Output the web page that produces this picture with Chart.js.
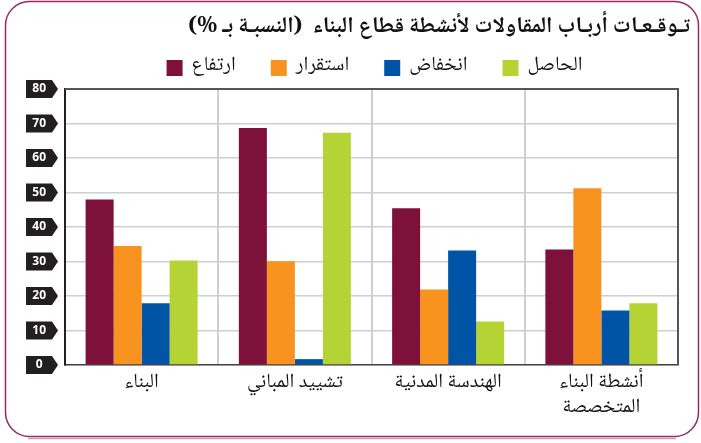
<!DOCTYPE html>
<html>
<head>
<meta charset="utf-8">
<script src="https://cdn.jsdelivr.net/npm/chart.js@4/dist/chart.umd.min.js"></script>
<style>
  html, body { margin: 0; padding: 0; background: #fff; }
  #wrap { width: 701px; height: 443px; position: relative; }
</style>
</head>
<body>
<div id="wrap"><canvas id="expectChart"></canvas></div>
<script>
var TITLE = 'تـوقـعـات أربـاب المقاولات لأنشطة قطاع البناء  (النسبـة بـ %)';
var categories = ['البناء', 'تشييد المباني', 'الهندسة المدنية', ['أنشطة البناء', 'المتخصصة']];
var seriesNames = ['ارتفاع', 'استقرار', 'انخفاض', 'الحاصل'];
var rise = [48, 68.7, 45.4, 33.5];
var stable = [34.5, 30.1, 21.9, 51.2];
var fall = [17.9, 1.7, 33.2, 15.8];
var net = [30.3, 67.3, 12.6, 17.9];
var yTicks = [0, 10, 20, 30, 40, 50, 60, 70, 80];

var colors = ['#7e1139', '#f7931e', '#0054a6', '#b5d334'];
var arabicFont = "'Noto Naskh Arabic', 'DejaVu Sans', sans-serif";

// rounded frame + black arrow tags behind the y labels
var backPlugin = {
    id: 'backPlugin',
    beforeDraw: function (chart) {
        var ctx = chart.ctx;
        ctx.save();
        ctx.strokeStyle = '#a02860';
        ctx.lineWidth = 1.5;
        ctx.beginPath();
        ctx.roundRect(5.5, 1.5, 693, 435, 24);
        ctx.stroke();
        ctx.strokeStyle = 'rgba(160,40,96,0.45)';
        ctx.lineWidth = 1.5;
        ctx.beginPath();
        ctx.moveTo(28, 438.5);
        ctx.lineTo(676, 438.5);
        ctx.stroke();

        var y = chart.scales.y;
        ctx.fillStyle = '#231f20';
        yTicks.forEach(function (v) {
            var py = y.getPixelForValue(v);
            ctx.beginPath();
            ctx.moveTo(26, py - 9);
            ctx.lineTo(52, py - 9);
            ctx.lineTo(58, py);
            ctx.lineTo(52, py + 9);
            ctx.lineTo(26, py + 9);
            ctx.closePath();
            ctx.fill();
        });
        ctx.restore();
    },
    afterDatasetsDraw: function (chart) {
        var a = chart.chartArea, ctx = chart.ctx;
        ctx.save();
        ctx.strokeStyle = '#555';
        ctx.lineWidth = 2;
        ctx.beginPath();
        ctx.moveTo(a.left, a.top);
        ctx.lineTo(a.right, a.top);
        ctx.lineTo(a.right, a.bottom);
        ctx.stroke();
        ctx.restore();
    },
    afterDraw: function (chart) {
        // legend: square then label, left to right
        var ctx = chart.ctx, a = chart.chartArea;
        ctx.save();
        ctx.font = '20px ' + arabicFont;
        ctx.textBaseline = 'middle';
        ctx.textAlign = 'left';
        var gap = 35, box = 16, space = 9;
        var widths = chart.data.datasets.map(function (ds) {
            return box + space + ctx.measureText(ds.label).width;
        });
        var total = widths.reduce(function (s, w) { return s + w; }, 0) + gap * (widths.length - 1);
        var x = (a.left + a.right) / 2 - total / 2 + 3;
        chart.data.datasets.forEach(function (ds, i) {
            ctx.fillStyle = ds.backgroundColor;
            ctx.fillRect(x, 60, box, box);
            ctx.fillStyle = '#111';
            ctx.fillText(ds.label, x + box + space, 67);
            x += widths[i] + gap;
        });
        ctx.restore();
    }
};

var ctx = document.getElementById('expectChart').getContext('2d');
var chart = new Chart(ctx, {
    type: 'bar',
    data: {
        labels: categories,
        datasets: [
            { label: seriesNames[0], data: rise, backgroundColor: colors[0] },
            { label: seriesNames[1], data: stable, backgroundColor: colors[1] },
            { label: seriesNames[2], data: fall, backgroundColor: colors[2] },
            { label: seriesNames[3], data: net, backgroundColor: colors[3] }
        ]
    },
    options: {
        responsive: true,
        maintainAspectRatio: false,
        animation: false,
        layout: { padding: { top: 0, right: 11, bottom: 0, left: 0 } },
        datasets: { bar: { categoryPercentage: 0.731, barPercentage: 1, borderWidth: 0 } },
        plugins: {
            legend: { display: false },
            tooltip: { enabled: false },
            title: {
                display: true,
                text: TITLE,
                align: 'end',
                color: '#111',
                font: { family: arabicFont, size: 22.5, weight: 'bold', lineHeight: 1.2 },
                padding: { top: 16, bottom: 46 }
            }
        },
        scales: {
            x: {
                grid: { color: '#cfcfcf', lineWidth: 2, offset: true, drawTicks: false },
                border: { color: '#444', width: 1.5 },
                ticks: {
                    color: '#111',
                    padding: 7,
                    maxRotation: 0,
                    font: { family: arabicFont, size: 20, lineHeight: 1.25 }
                },
                afterFit: function (s) { s.height = 78; }
            },
            y: {
                min: 0,
                max: 80,
                ticks: {
                    stepSize: 10,
                    color: '#fff',
                    padding: 19,
                    crossAlign: 'center',
                    font: { family: "'Open Sans', sans-serif", size: 12, weight: 'bold' }
                },
                grid: { color: '#cfcfcf', lineWidth: 1.5, drawTicks: false },
                border: { color: '#222', width: 2 },
                afterFit: function (s) { s.width = 65; }
            },
            yr: {
                position: 'right',
                grid: { display: false },
                border: { display: false },
                ticks: { display: false },
                afterFit: function (s) { s.width = 12; }
            }
        }
    },
    plugins: [backPlugin]
});
</script>
</body>
</html>
